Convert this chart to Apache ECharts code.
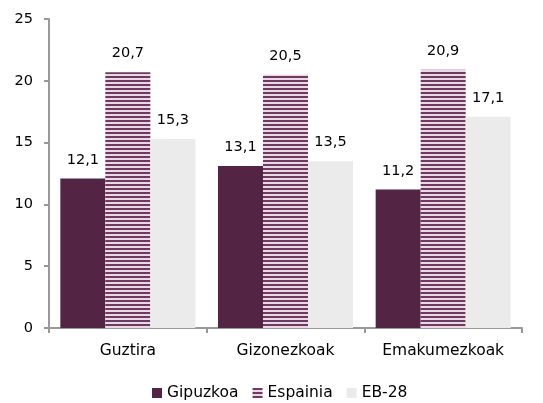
<!DOCTYPE html>
<html>
<head>
<meta charset="utf-8">
<script src="https://cdn.jsdelivr.net/npm/echarts@6/dist/echarts.min.js"></script>
<style>
  html, body { margin: 0; padding: 0; background: #fff; }
</style>
</head>
<body>
<div id="chart" style="width:543px; height:403px;"></div>
<script>
// datuak
var categories = ['Guztira', 'Gizonezkoak', 'Emakumezkoak'];
var seriesNames = ['Gipuzkoa', 'Espainia', 'EB-28'];
var gipuzkoa = [12.1, 13.1, 11.2];
var espainia = [20.7, 20.5, 20.9];
var eb28 = [15.3, 13.5, 17.1];
var yTicks = [0, 5, 10, 15, 20, 25];

// marra horizontalen eredua (Espainia)
function stripePattern() {
  var c = document.createElement('canvas');
  c.width = 4; c.height = 4;
  var ctx = c.getContext('2d');
  ctx.fillStyle = '#ead9e5';
  ctx.fillRect(0, 0, 4, 4);
  ctx.fillStyle = '#6e3a62';
  ctx.fillRect(0, 0, 4, 2);
  return { image: c, repeat: 'repeat' };
}

var font = 'DejaVu Sans';
var fs = 14.5;   // zenbakiak
var fsT = 15.5;  // kategoriak eta legenda
var fmt = function (p) { return p.value.toFixed(1).replace('.', ','); };

var chart = echarts.init(document.getElementById('chart'));
chart.setOption({
  animation: false,
  textStyle: { fontFamily: font },
  grid: { left: 49, right: 21, top: 19, bottom: 75 },
  legend: {
    bottom: 2,
    left: 152,
    padding: 0,
    itemWidth: 10,
    itemHeight: 10,
    itemGap: 14,
    icon: 'rect',
    textStyle: { fontFamily: font, fontSize: fsT, color: '#000' },
    data: seriesNames
  },
  xAxis: {
    type: 'category',
    data: categories,
    axisLine: { lineStyle: { color: '#999', width: 2 } },
    axisTick: { show: true, interval: 0, length: 5, lineStyle: { color: '#999', width: 2 } },
    axisLabel: { interval: 0, hideOverlap: false, fontFamily: font, fontSize: fsT, color: '#000', margin: 15 }
  },
  yAxis: {
    type: 'value',
    min: yTicks[0],
    max: yTicks[yTicks.length - 1],
    interval: 5,
    splitLine: { show: false },
    axisLine: { show: true, lineStyle: { color: '#999', width: 2 } },
    axisTick: { show: true, length: 5, lineStyle: { color: '#999', width: 2 } },
    axisLabel: { fontFamily: font, fontSize: fs, color: '#000', margin: 16 }
  },
  series: [
    {
      name: seriesNames[0], type: 'bar', data: gipuzkoa,
      barWidth: 45, barGap: '0%',
      itemStyle: { color: '#532443' },
      label: { show: true, position: 'top', distance: 11, fontFamily: font, fontSize: fs, color: '#000', formatter: fmt }
    },
    {
      name: seriesNames[1], type: 'bar', data: espainia,
      barWidth: 45, barGap: '0%',
      itemStyle: { color: stripePattern() },
      label: { show: true, position: 'top', distance: 11, fontFamily: font, fontSize: fs, color: '#000', formatter: fmt }
    },
    {
      name: seriesNames[2], type: 'bar', data: eb28,
      barWidth: 45, barGap: '0%',
      itemStyle: { color: '#ebebeb' },
      label: { show: true, position: 'top', distance: 11, fontFamily: font, fontSize: fs, color: '#000', formatter: fmt }
    }
  ]
});
</script>
</body>
</html>
